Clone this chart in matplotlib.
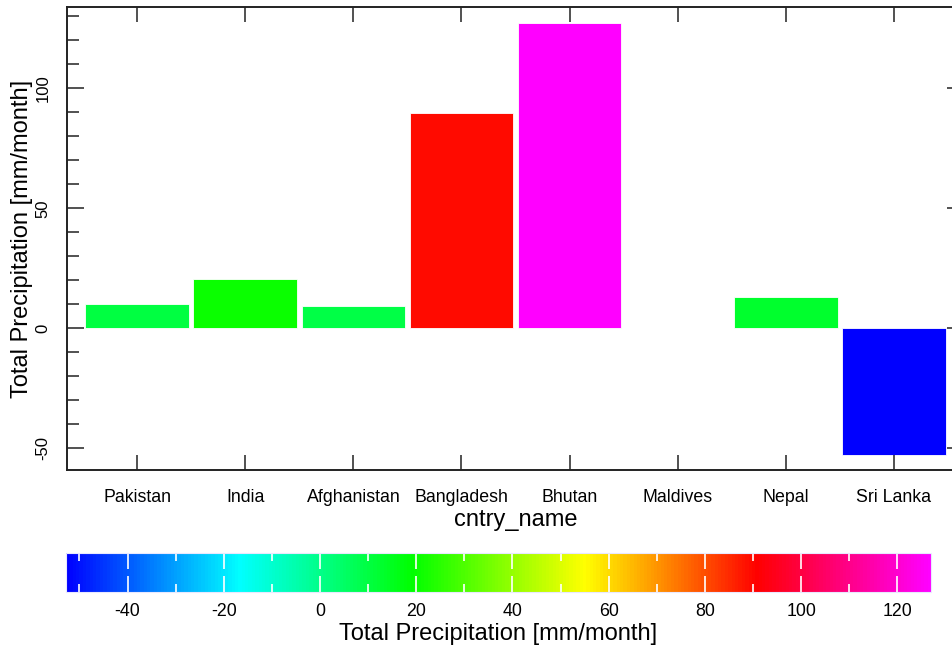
import numpy as np
import matplotlib
matplotlib.use("Agg")
import matplotlib.pyplot as plt
from matplotlib.colors import LinearSegmentedColormap, Normalize
from matplotlib.ticker import MultipleLocator

plt.rcParams['font.family'] = ['Liberation Sans', 'DejaVu Sans']
plt.rcParams['axes.unicode_minus'] = False

# data
countries = ["Pakistan", "India", "Afghanistan", "Bangladesh", "Bhutan",
             "Maldives", "Nepal", "Sri Lanka"]
precip = [10.1, 20.5, 9.4, 89.7, 127.0, np.nan, 13.0, -52.8]

cmap = LinearSegmentedColormap.from_list(
    "bgyrm", ["#0000ff", "#00ffff", "#00ff00", "#ffff00", "#ff0000", "#ff00ff"])
vals = np.array(precip, dtype=float)
norm = Normalize(vmin=np.nanmin(vals), vmax=np.nanmax(vals))

fig = plt.figure(figsize=(9.52, 6.49), dpi=100)
ax = fig.add_axes([0.0704, 0.2758, 0.9422, 0.7130])

x = np.arange(len(countries))
colors = [cmap(norm(v)) if not np.isnan(v) else (0, 0, 0, 0) for v in vals]
ax.bar(x, np.nan_to_num(vals), width=0.96, color=colors,
       edgecolor='white', linewidth=0.6)

ax.set_xlim(-0.65, 7.65)
ax.set_ylim(-59.0, 133.75)
ax.set_xticks(x)
ax.set_xticklabels(countries)
ax.yaxis.set_major_locator(MultipleLocator(50))
ax.yaxis.set_minor_locator(MultipleLocator(10))

for s in ax.spines.values():
    s.set_linewidth(1.4)
    s.set_color('#222222')

ax.tick_params(axis='x', which='major', direction='in', top=True, bottom=True,
               length=11, width=1.1, color='#222222', labelsize=12.8, pad=14)
ax.tick_params(axis='y', which='major', direction='in', left=True, right=True,
               length=12, width=1.1, color='#222222', labelsize=12, pad=12,
               labelrotation=90)
ax.tick_params(axis='y', which='minor', direction='in', left=True, right=True,
               length=8.5, width=1.1, color='#222222')
for lab in ax.get_yticklabels():
    lab.set_va('center')

ax.set_xlabel("cntry_name", fontsize=17, labelpad=2)
ax.set_ylabel("Total Precipitation [mm/month]", fontsize=17, labelpad=2)

# colorbar
cax = fig.add_axes([0.0693, 0.0878, 0.9086, 0.0601])
sm = plt.cm.ScalarMappable(norm=norm, cmap=cmap)
cb = fig.colorbar(sm, cax=cax, orientation='horizontal')
cb.outline.set_edgecolor('#e8e8ff')
cb.outline.set_linewidth(0.8)
cb.set_ticks(np.arange(-40, 121, 20))
cax.xaxis.set_minor_locator(MultipleLocator(10))
cax.tick_params(axis='x', which='major', direction='in', top=True, bottom=True,
                length=11.5, width=1.2, color='white', labelsize=12.8, pad=8)
cax.tick_params(axis='x', which='minor', direction='in', top=True, bottom=True,
                length=6, width=1.2, color='white')
cb.set_label("Total Precipitation [mm/month]", fontsize=17, labelpad=2)

fig.savefig("out.png", dpi=100)
